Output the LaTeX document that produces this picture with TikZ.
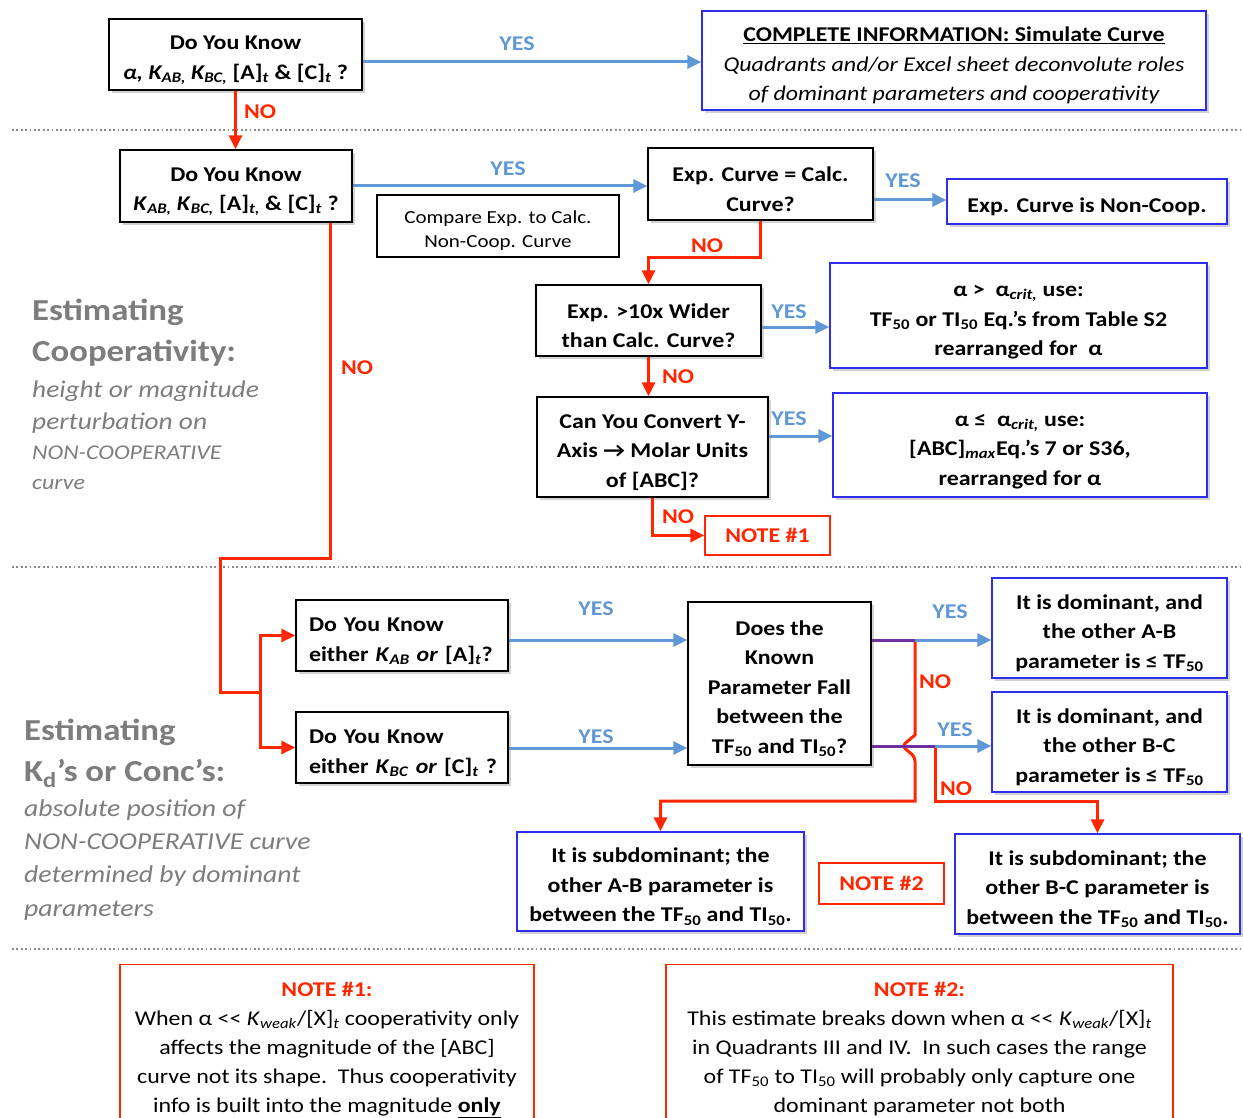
\documentclass[tikz,border=0pt]{standalone}
\usepackage{fontspec}
\setmainfont{Carlito}[FakeStretch=1.14]
\usetikzlibrary{arrows.meta,shadows,calc}
\definecolor{ablue}{RGB}{96,152,214}
\definecolor{bblue}{RGB}{45,45,235}
\definecolor{nred}{RGB}{255,38,0}
\definecolor{npurple}{RGB}{112,48,160}
\definecolor{tgray}{RGB}{125,125,125}
\newcommand{\sbi}[1]{\textsubscript{\textit{#1}}}
\newcommand{\sbn}[1]{\textsubscript{#1}}
\newcommand{\llt}{<\kern0pt<}
\newcommand{\tq}{\rule{0pt}{25pt}}
\newcommand{\tc}{\rule{0pt}{22pt}}
\newcommand{\tn}{\rule{0pt}{22pt}}
\tikzset{
  fs/.style={font=\bfseries\fontsize{21}{29.5}\selectfont},
  qbox/.style={draw=black, line width=1.3pt, fill=white, align=center, inner sep=0pt, fs,
     drop shadow={opacity=0.35, shadow xshift=3pt, shadow yshift=-3pt}},
  rbox/.style={qbox, draw=bblue},
  lbox/.style={qbox, minimum width=212pt, minimum height=71pt, text width=199pt, align=left},
  cbox/.style={draw=black, line width=1.2pt, fill=white, align=center, inner sep=0pt,
     font=\fontsize{18.4}{24}\selectfont},
  nbox/.style={draw=nred, line width=1.2pt, fill=white, inner sep=0pt, text=nred, fs},
  notebig/.style={draw=nred, line width=1.2pt, fill=white, align=center, inner xsep=0pt, inner ysep=10pt,
     anchor=north, font=\fontsize{21}{29}\selectfont},
  yesline/.style={ablue, line width=3pt},
  yesarrow/.style={yesline, -{Triangle[length=14pt,width=13pt]}},
  noline/.style={nred, line width=3pt},
  noarrow/.style={noline, -{Triangle[length=14pt,width=13pt]}},
  purpline/.style={npurple, line width=3pt},
  yeslab/.style={text=ablue, fs, inner sep=0pt},
  nolab/.style={text=nred, fs, inner sep=0pt},
  sepline/.style={tgray!90, line width=1.8pt, dash pattern=on 1.8pt off 2.6pt},
  headtxt/.style={text=tgray, anchor=base west, inner sep=0pt, font=\bfseries\fontsize{30.5}{36}\selectfont},
  subtxt/.style={text=tgray, anchor=base west, inner sep=0pt, font=\itshape\fontsize{24}{30}\selectfont},
  subtxts/.style={text=tgray, anchor=base west, inner sep=0pt, font=\itshape\fontsize{21}{30}\selectfont},
  subtxtb/.style={text=tgray, anchor=base west, inner sep=0pt, font=\itshape\fontsize{24.3}{30}\selectfont},
}
\begin{document}
\begin{tikzpicture}[x=1pt,y=-1pt]
\useasboundingbox (0,0) rectangle (1243,1118);
\fill[white] (0,0) rectangle (1243,1118);

% separators
\draw[sepline] (12,130) -- (1243,130);
\draw[sepline] (12,567) -- (1243,567);
\draw[sepline] (12,949) -- (1243,949);

% left side texts
\node[headtxt] (h1a) at (32,320) {Estimating};
\node[headtxt] (h1b) at (32,361) {Cooperativity:};
\node[subtxt] (s1a) at (32,397) {height or magnitude};
\node[subtxt] (s1b) at (32,429) {perturbation on};
\node[subtxts] (s1c) at (32,459) {NON-COOPERATIVE};
\node[subtxts] (s1d) at (32,489) {curve};
\node[headtxt] (h2a) at (24,740) {Estimating};
\node[headtxt] (h2b) at (24,781) {K\sbn{d}’s or Conc’s:};
\node[subtxtb] (s2a) at (24,816) {absolute position of};
\node[subtxtb] (s2b) at (24,849) {NON-COOPERATIVE curve};
\node[subtxtb] (s2c) at (24,882) {determined by dominant};
\node[subtxtb] (s2d) at (24,916) {parameters};

% boxes
\node[qbox, minimum width=253pt, minimum height=71pt] (a1) at (235.5,54.5)
  {\tq Do You Know\\\textit{α, K\sbi{AB,} K\sbi{BC,}} [A]\sbi{t} \& [C]\sbi{t} ?};
\node[rbox, minimum width=504pt, minimum height=99pt] (a2) at (954,60.5)
  {\tq\underline{COMPLETE INFORMATION: Simulate Curve}\\
   {\mdseries\itshape\fontsize{21}{29.5}\selectfont Quadrants and/or Excel sheet deconvolute roles}\\
   {\mdseries\itshape\fontsize{21}{29.5}\selectfont of dominant parameters and cooperativity}};
\node[qbox, minimum width=232pt, minimum height=72pt] (b1) at (236,186)
  {\tq Do You Know\\\textit{K}\sbi{AB,} \textit{K}\sbi{BC,} [A]\sbi{t,} \& [C]\sbi{t} ?};
\node[cbox, minimum width=242pt, minimum height=62pt] (cmp) at (498,226)
  {\tc Compare Exp. to Calc.\\Non-Coop. Curve};
\node[qbox, minimum width=225pt, minimum height=72pt] (b2) at (760.5,184)
  {\tq Exp. Curve = Calc.\\Curve?};
\node[rbox, minimum width=280pt, minimum height=45pt] (b3) at (1087,201.5)
  {\tq Exp. Curve is Non-Coop.};
\node[qbox, minimum width=225pt, minimum height=71pt] (c1) at (648.5,320.5)
  {\tq Exp. >10x Wider\\than Calc. Curve?};
\node[rbox, minimum width=377pt, minimum height=105pt] (c2) at (1018.5,315.5)
  {\tq α >\ \ α\sbi{crit,} use:\\TF\sbn{50} or TI\sbn{50} Eq.’s from Table S2\\rearranged for\ \ α};
\node[qbox, minimum width=231pt, minimum height=100pt] (d1) at (652.5,447)
  {\tq Can You Convert Y-\\Axis → Molar Units\\of [ABC]?};
\node[rbox, minimum width=374pt, minimum height=104pt] (d2) at (1020,445)
  {\tq α ≤\ \ α\sbi{crit,} use:\\{}[ABC]\sbi{max}Eq.’s 7 or S36,\\rearranged for α};
\node[nbox, minimum width=125pt, minimum height=39pt] (n1) at (767.5,535.5) {NOTE \#1};

\node[lbox] (e1) at (402,635.5)
  {\tq\hspace*{6.5pt}Do You Know\\\hspace*{6.5pt}either \textit{K}\sbi{AB} \textit{or} [A]\sbi{t}?};
\node[lbox] (e2) at (402,747.5)
  {\tq\hspace*{6.5pt}Do You Know\\\hspace*{6.5pt}either \textit{K}\sbi{BC} \textit{or} [C]\sbi{t} ?};
\node[qbox, minimum width=183pt, minimum height=163pt] (f) at (779.5,683.5)
  {\tq Does the\\Known\\Parameter Fall\\between the\\TF\sbn{50} and TI\sbn{50}?};
\node[rbox, minimum width=235pt, minimum height=100pt] (g1) at (1109.5,628)
  {\tq It is dominant, and\\the other A-B\\parameter is ≤ TF\sbn{50}};
\node[rbox, minimum width=235pt, minimum height=100pt] (g2) at (1109.5,742)
  {\tq It is dominant, and\\the other B-C\\parameter is ≤ TF\sbn{50}};
\node[rbox, minimum width=287pt, minimum height=99pt] (h1) at (660.5,881.5)
  {\tq It is subdominant; the\\other A-B parameter is\\between the TF\sbn{50} and TI\sbn{50}.};
\node[nbox, minimum width=125pt, minimum height=41pt] (n2) at (881.5,883.5) {NOTE \#2};
\node[rbox, minimum width=285pt, minimum height=100pt] (h2) at (1097.5,884)
  {\tq It is subdominant; the\\other B-C parameter is\\between the TF\sbn{50} and TI\sbn{50}.};

% notes at bottom
\begin{scope}
\clip (0,0) rectangle (1243,1118);
\node[notebig, minimum width=414pt] (note1) at (327,964)
  {\tn{\bfseries\color{nred}NOTE \#1:}\\
   When α \llt{} \textit{K}\sbi{weak}/[X]\sbi{t} cooperativity only\\
   affects the magnitude of the [ABC]\\
   curve not its shape.\ \ Thus cooperativity\\
   info is built into the magnitude \underline{\textbf{only}}};
\node[notebig, minimum width=507pt] (note2) at (919.5,964)
  {\tn{\bfseries\color{nred}NOTE \#2:}\\
   This estimate breaks down when α \llt{} \textit{K}\sbi{weak}/[X]\sbi{t}\\
   in Quadrants III and IV.\ \ In such cases the range\\
   of TF\sbn{50} to TI\sbn{50} will probably only capture one\\
   dominant parameter not both};
\end{scope}

% connectors
\draw[yesarrow] (a1.east |- 0,62) -- (a2.west |- 0,62);
\node[yeslab] (y1) at (517,44) {YES};
\draw[noarrow] (a1.south) -- (b1.north -| a1.south);
\node[nolab] (no1) at (260,112) {NO};

\draw[yesarrow] (b1.east |- 0,186) -- (b2.west |- 0,186);
\node[yeslab] (y2) at (508,169) {YES};
\draw[yesarrow] (b2.east |- 0,200) -- (b3.west |- 0,200);
\node[yeslab] (y3) at (903,181) {YES};
\draw[noarrow] (b2.south) |- (c1.north |- 0,258) -- (c1.north);
\node[nolab] (no2) at (707,246) {NO};

\draw[yesarrow] (c1.east |- 0,327) -- (c2.west |- 0,327);
\node[yeslab] (y4) at (789,312) {YES};
\draw[noarrow] (c1.south) -- (c1.south |- d1.north);
\node[nolab] (no3) at (678,377) {NO};

\draw[yesarrow] (d1.east |- 0,436) -- (d2.west |- 0,436);
\node[yeslab] (y5) at (789,419) {YES};
\draw[noarrow] (d1.south) |- (n1.west);
\node[nolab] (no4) at (678,517) {NO};

\draw[noline] (b1.south -| 330,0) |- (220,558) |- (260,692) coordinate (br);
\draw[noarrow] (br) |- (e1.west);
\draw[noarrow] (br) |- (e2.west);
\node[nolab] (no5) at (357,368) {NO};

\draw[yesarrow] (e1.east |- 0,640) -- (f.west |- 0,640);
\node[yeslab] (y6) at (596,609) {YES};
\draw[yesarrow] (e2.east |- 0,748) -- (f.west |- 0,748);
\node[yeslab] (y7) at (596,737) {YES};

\coordinate (j1) at (915,640);
\coordinate (j2) at (935,746);
\draw[noarrow] (j1) -- (915,735) [rounded corners=4pt] -- (902,746) -- (915,757) [sharp corners] -- (915,801) -| (h1.north);
\draw[noarrow] (j2) -- (935,801) -| (h2.north);
\draw[purpline] (f.east |- j1) -- (j1);
\draw[yesarrow] (j1) -- (g1.west |- j1);
\draw[purpline] (f.east |- j2) -- (j2);
\draw[yesarrow] (j2) -- (g2.west |- j2);
\node[yeslab] (y8) at (950,612) {YES};
\node[nolab] (no6) at (935,682) {NO};
\node[yeslab] (y9) at (955,730) {YES};
\node[nolab] (no7) at (956,789) {NO};
\end{tikzpicture}
\end{document}
